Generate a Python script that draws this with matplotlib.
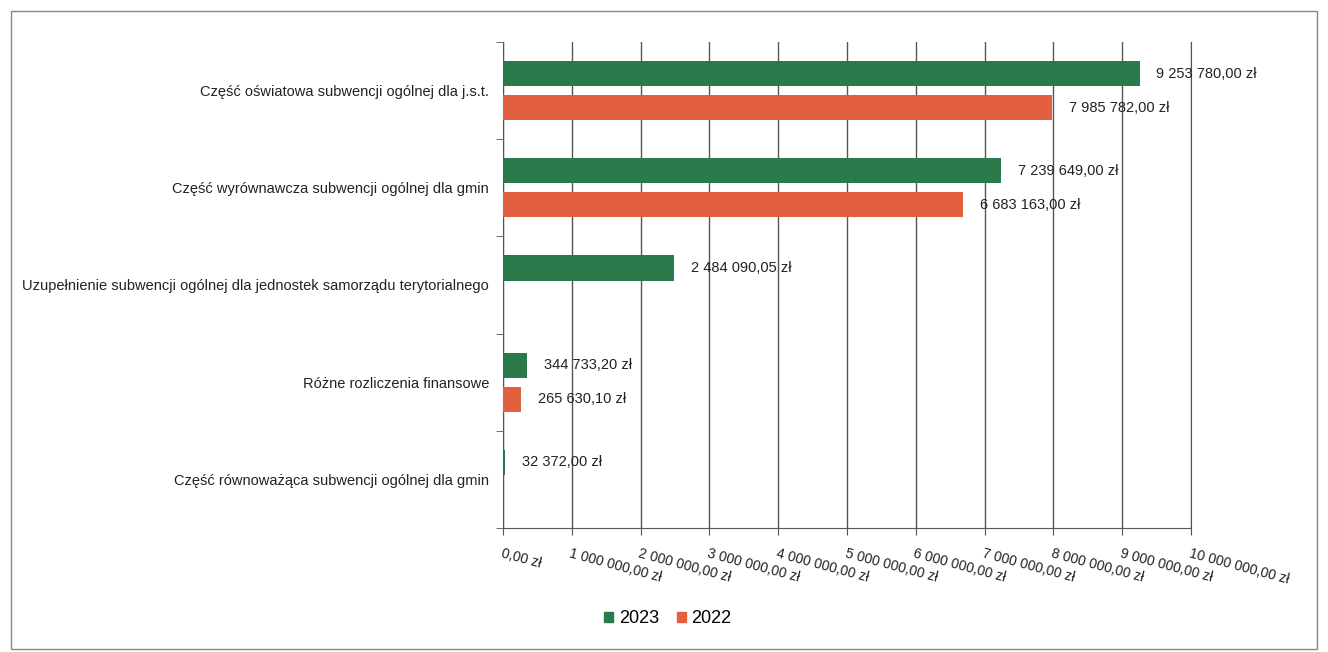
import numpy as np
import matplotlib.pyplot as plt
from matplotlib.patches import Rectangle, Patch

plt.rcParams["font.family"] = ["Liberation Sans", "DejaVu Sans"]

categories = [
    "Część oświatowa subwencji ogólnej dla j.s.t.",
    "Część wyrównawcza subwencji ogólnej dla gmin",
    "Uzupełnienie subwencji ogólnej dla jednostek samorządu terytorialnego",
    "Różne rozliczenia finansowe",
    "Część równoważąca subwencji ogólnej dla gmin",
]
values_2023 = [9253780.00, 7239649.00, 2484090.05, 344733.20, 32372.00]
values_2022 = [7985782.00, 6683163.00, None, 265630.10, None]
x_ticks = list(range(0, 10000001, 1000000))

GREEN = "#2b7a4b"
RED = "#e2603f"


def fmt_zl(v):
    cents_total = int(round(v * 100))
    s = f"{cents_total // 100:,}".replace(",", " ")
    return f"{s},{cents_total % 100:02d} zł"


fig = plt.figure(figsize=(13.28, 6.52), dpi=100)
ax = fig.add_axes([0.3788, 0.1902, 0.518, 0.7454])

y = np.arange(len(categories))
h = 0.26
off = 0.175
gap = 245000  # odstęp etykiety od końca słupka

for i, v in enumerate(values_2023):
    ax.barh(y[i] - off, v, height=h, color=GREEN, zorder=3)
    ax.text(v + gap, y[i] - off, fmt_zl(v), va="center", ha="left",
            fontsize=10.5, color="#222222", zorder=4)
for i, v in enumerate(values_2022):
    if v is None:
        continue
    ax.barh(y[i] + off, v, height=h, color=RED, zorder=3)
    ax.text(v + gap, y[i] + off, fmt_zl(v), va="center", ha="left",
            fontsize=10.5, color="#222222", zorder=4)

ax.set_xlim(0, 10000000)
ax.set_ylim(len(categories) - 0.5, -0.5)

ax.set_xticks(x_ticks)
ax.set_xticklabels([fmt_zl(t) for t in x_ticks], rotation=-15,
                   ha="left", va="top", rotation_mode="anchor",
                   fontsize=10, color="#222222")
ax.tick_params(axis="x", length=5, color="#555555", pad=8)

ax.set_yticks(y)
ax.set_yticklabels(categories, fontsize=10.5, color="#222222")
ax.tick_params(axis="y", length=0, pad=10)
ax.set_yticks(np.arange(-0.5, len(categories)), minor=True)
ax.tick_params(axis="y", which="minor", length=5, color="#555555")

ax.grid(axis="x", color="#555555", linewidth=1, zorder=0)
ax.spines["top"].set_visible(False)
for s in ["left", "bottom", "right"]:
    ax.spines[s].set_color("#555555")

handles = [Patch(color=GREEN, label="2023"), Patch(color=RED, label="2022")]
fig.legend(handles=handles, loc="center", bbox_to_anchor=(0.503, 0.051),
           ncol=2, frameon=False, fontsize=13, handlelength=0.5,
           handleheight=0.5, handletextpad=0.3, columnspacing=1.0)

fig.patches.append(Rectangle((0.008, 0.005), 0.984, 0.978, transform=fig.transFigure,
                             fill=False, edgecolor="#888888", linewidth=1))

fig.savefig("out.png", dpi=100)
